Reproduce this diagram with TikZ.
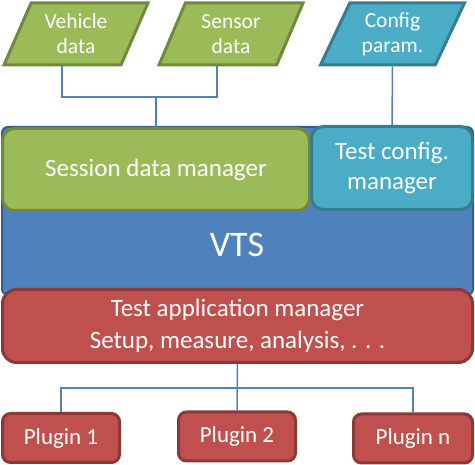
\documentclass[tikz,border=0pt]{standalone}
\usepackage{fontspec}
\setmainfont{Carlito}
\usetikzlibrary{shapes.geometric,calc}
\definecolor{grfill}{HTML}{9BBB59}
\definecolor{grline}{HTML}{71893F}
\definecolor{cyfill}{HTML}{4BACC6}
\definecolor{cyline}{HTML}{357D91}
\definecolor{blfill}{HTML}{4F81BD}
\definecolor{blline}{HTML}{385D8A}
\definecolor{rdfill}{HTML}{C0504D}
\definecolor{rdline}{HTML}{8C3836}
\begin{document}
\begin{tikzpicture}[x=1pt, y=-1pt, text=white]
        \tikzstyle{datain}=[draw=grline, fill=grfill, line width=3pt, trapezium, trapezium left angle=56, trapezium right angle=124, trapezium stretches body, minimum width=144pt, minimum height=62pt, inner sep=0pt, align=center, font=\fontsize{21.5}{25}\selectfont]
        \tikzstyle{cfgin}=[datain, draw=cyline, fill=cyfill]
        \tikzstyle{mgr}=[draw=grline, fill=grfill, line width=3pt, rounded corners=12pt, align=center, font=\fontsize{25}{30}\selectfont]
        \tikzstyle{cfgmgr}=[mgr, draw=cyline, fill=cyfill]
        \tikzstyle{appmgr}=[mgr, draw=rdline, fill=rdfill, rounded corners=14pt, font=\fontsize{25}{32}\selectfont]
        \tikzstyle{plugin}=[draw=rdline, fill=rdfill, line width=3pt, rounded corners=8pt, minimum width=117pt, minimum height=49pt, font=\fontsize{23}{26}\selectfont]
        \tikzstyle{link}=[draw=blfill, line width=1.5pt]

        \useasboundingbox (0,0) rectangle (475,465);

        % VTS frame
        \node[draw=blline, fill=blfill, line width=2pt, rounded corners=6pt, minimum width=471pt, minimum height=168pt] (vts) at (237.5,211) {};
        \node[font=\fontsize{36}{40}\selectfont] (vtslabel) at (237,245) {VTS};

        \node[datain] (veh) at (76,34) {Vehicle\\data};
        \node[datain] (sen) at (231,34) {Sensor\\data};
        \node[cfgin] (cfg) at (392.5,34) {Config\\param.};

        \node[mgr, minimum width=307pt, minimum height=82pt] (sdm) at (156,169.5) {Session data manager};
        \node[cfgmgr, minimum width=161pt, minimum height=83pt] (tcm) at (392,168) {Test config.\\manager};
        \node[appmgr, minimum width=470pt, minimum height=73pt] (tam) at (237.5,326) {Test application manager\\Setup, measure, analysis, . . .};

        \node[plugin] (p1) at (61,438) {Plugin 1};
        \node[plugin] (p2) at (237,436.5) {Plugin 2};
        \node[plugin, minimum width=119pt] (pn) at (413,438.5) {Plugin n};

        % connectors
        \coordinate (vehb) at ($(veh.bottom left corner)!.5!(veh.bottom right corner)$);
        \coordinate (senb) at ($(sen.bottom left corner)!.5!(sen.bottom right corner)$);
        \coordinate (djoin) at (sdm.north |- 0,97);
        \draw[link] (vehb) |- (djoin) -| (senb);
        \draw[link] (djoin) -- (sdm.north);
        \draw[link] (cfg.south) -- (tcm.north);

        \coordinate (pjoin) at (tam.south |- 0,388);
        \draw[link] (tam.south) -- (p2.north);
        \draw[link] (p1.north) |- (pjoin) -| (pn.north);
\end{tikzpicture}
\end{document}
